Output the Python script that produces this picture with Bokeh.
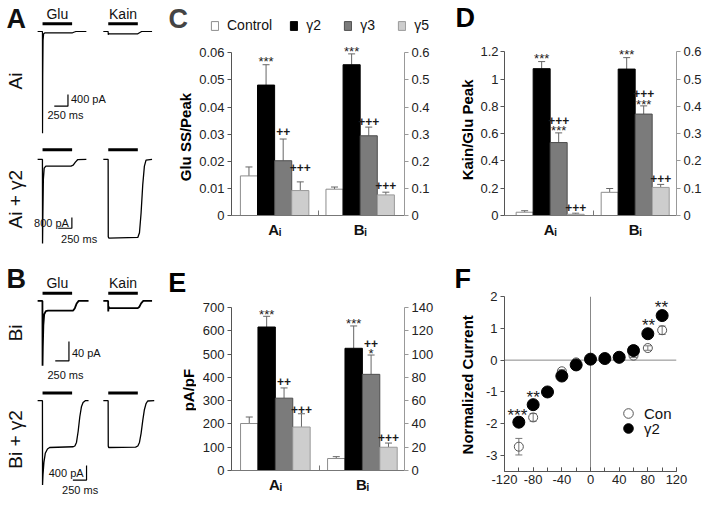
import math
from bokeh.plotting import figure
from bokeh.layouts import row, column
from bokeh.models import (Range1d, LinearAxis, FixedTicker, Label, Legend, LegendItem,
                          Whisker, TeeHead, ColumnDataSource, Span,
                          CustomJSTickFormatter, SingleIntervalTicker)
from bokeh.core.properties import value
from bokeh.embed import file_html
from bokeh.resources import INLINE

FONT = "Liberation Sans"

# ------------------------------------------------------------------ data
CONDITIONS = ["Control", "γ2", "γ3", "γ5"]
GROUP_TICKS = [2.5, 7.5]
GROUP_LABELS = ["Aᵢ", "Bᵢ"]

# C: Glu SS/Peak  (Ai -> left axis, Bi -> right axis)
C_AI = [0.0146, 0.0481, 0.0202, 0.0092]
C_AI_ERR = [0.0033, 0.0075, 0.0080, 0.0032]
C_BI = [0.097, 0.556, 0.294, 0.076]
C_BI_ERR = [0.008, 0.040, 0.032, 0.010]
C_LTICKS = [0, 0.01, 0.02, 0.03, 0.04, 0.05, 0.06]
C_RTICKS = [0, 0.1, 0.2, 0.3, 0.4, 0.5, 0.6]
C_SIG_AI = [(1, "***", 0.0580), (2, "++", 0.0308), (3, "+++", 0.0177)]
C_SIG_BI = [(1, "***", 0.615), (2, "+++", 0.348), (3, "+++", 0.112)]

# D: Kain/Glu Peak
D_AI = [0.024, 1.077, 0.535, 0.009]
D_AI_ERR = [0.011, 0.052, 0.071, 0.008]
D_BI = [0.085, 0.537, 0.372, 0.103]
D_BI_ERR = [0.014, 0.042, 0.030, 0.011]
D_LTICKS = [0, 0.2, 0.4, 0.6, 0.8, 1, 1.2]
D_RTICKS = [0, 0.1, 0.2, 0.3, 0.4, 0.5, 0.6]
D_SIG_AI = [(1, "***", 1.172), (2, "+++", 0.698), (2, "***", 0.644), (3, "+++", 0.059)]
D_SIG_BI = [(1, "***", 0.600), (2, "+++", 0.446), (2, "***", 0.417), (3, "+++", 0.135)]

# E: pA/pF
E_AI = [202, 617, 311, 187]
E_AI_ERR = [28, 46, 44, 57]
E_BI = [10.3, 105.1, 82.7, 20.0]
E_BI_ERR = [1.6, 19.2, 16.6, 3.6]
E_LTICKS = [0, 100, 200, 300, 400, 500, 600, 700]
E_RTICKS = [0, 20, 40, 60, 80, 100, 120, 140]
E_SIG_AI = [(1, "***", 682), (2, "++", 381), (3, "+++", 261)]
E_SIG_BI = [(1, "***", 129), (2, "++", 109), (2, "*", 103), (3, "+++", 28.3)]

# F: normalized I-V
F_V = [-100, -80, -60, -40, -20, 0, 20, 40, 60, 80, 100]
F_CON = [-2.72, -1.80, -1.00, -0.35, -0.07, 0.04, 0.05, 0.05, 0.14, 0.38, 0.94]
F_CON_ERR = [0.26, 0.12, 0.05, 0.05, 0.04, 0.12, 0.03, 0.04, 0.06, 0.07, 0.13]
F_G2 = [-1.95, -1.40, -1.00, -0.50, -0.15, 0.03, 0.05, 0.09, 0.30, 0.83, 1.40]
F_G2_ERR = [0.05, 0.05, 0.05, 0.04, 0.03, 0.03, 0.02, 0.03, 0.04, 0.05, 0.10]
F_YTICKS = [-3, -2, -1, 0, 1, 2]
F_SIG = [(-102, "***", -1.60), (-80, "**", -1.06), (81, "**", 1.20), (99, "**", 1.79)]

# Example traces (time in ms, current in pA)
AI_GLU_T = [-90, -2, 0, 4, 10, 20, 40, 540, 570, 610, 800]
AI_GLU_I = [0, 0, -3500, -1500, -300, -80, -50, -50, -25, 0, 0]
AI_KAIN_T = [-90, -2, 0, 8, 20, 540, 570, 610, 800]
AI_KAIN_I = [0, 0, -110, -70, -80, -80, -40, 0, 0]

AIG2_GLU_T = [-90, -2, 0, 5, 15, 30, 60, 520, 560, 600, 640, 800]
AIG2_GLU_I = [0, 0, -6300, -4500, -1500, -650, -500, -500, -430, -200, -20, 0]
AIG2_KAIN_T = [-90, -2, 0, 10, 540, 570, 600, 630, 660, 690, 800]
AIG2_KAIN_I = [0, 0, -5800, -5900, -5850, -5500, -4000, -1900, -500, -50, 0]

BI_GLU_T = [-90, -2, 0, 5, 15, 30, 60, 100, 560, 590, 620, 660, 840]
BI_GLU_I = [0, 0, -134, -95, -50, -28, -21, -20, -20, -15, -6, 0, 0]
BI_KAIN_T = [-90, -2, 0, 6, 20, 540, 570, 600, 640, 800]
BI_KAIN_I = [0, 0, -22, -12, -15, -15, -12, -5, 0, 0]

BIG2_GLU_T = [-90, -2, 0, 8, 25, 50, 90, 130, 560, 590, 620, 650, 680, 710, 740, 780, 840]
BIG2_GLU_I = [0, 0, -2320, -2050, -1700, -1450, -1330, -1290, -1270, -1250, -1150,
              -850, -450, -170, -50, 0, 0]
BIG2_KAIN_T = [-90, -2, 0, 8, 500, 540, 570, 600, 630, 660, 690, 720, 840]
BIG2_KAIN_I = [0, 0, -1250, -1290, -1280, -1250, -1150, -900, -550, -250, -80, -10, 0]

APP_DUR = 540          # ms, application bar length
KAIN_OFFSET = 1200     # ms, Kain sweep drawn to the right of the Glu sweep
SB_MS = 250            # time scale bar

# ------------------------------------------------------------------ styles
FILL = ["#ffffff", "#000000", "#7b7b7b", "#cdcdcd"]
EDGE = ["#8c8c8c", "#000000", "#4d4d4d", "#9a9a9a"]
ERR = "#666666"
AI_X = [1, 2, 3, 4]
BI_X = [6, 7, 8, 9]
GAP_X = 5.05
FMT = "return String(Math.round(tick*1000)/1000)"


def style_axis(ax, color, tick_in=0, tick_out=4, standoff=3):
    ax.axis_line_color = color
    ax.major_tick_line_color = color
    ax.minor_tick_line_color = None
    ax.major_tick_in = tick_in
    ax.major_tick_out = tick_out
    ax.major_label_text_font = FONT
    ax.major_label_text_font_size = "13px"
    ax.major_label_text_color = "#222222"
    ax.major_label_standoff = standoff


def add_text(p, xs, ys, texts, size, rn="default", yoff=0, bold=False):
    p.text(x=xs, y=ys, text=texts, y_range_name=rn, text_align="center",
           text_baseline="middle", text_font=value(FONT), text_font_size=size,
           text_color="#1a1a1a", y_offset=yoff, text_font_style="bold" if bold else "normal")


def sig_marks(p, xs, sig, rn):
    st = [s for s in sig if "*" in s[1]]
    pl = [s for s in sig if "*" not in s[1]]
    if st:
        add_text(p, [xs[c] for c, _, _ in st], [y for _, _, y in st], [t for _, t, _ in st],
                 "13px", rn, yoff=3)
    if pl:
        add_text(p, [xs[c] for c, _, _ in pl], [y for _, _, y in pl], [t for _, t, _ in pl],
                 "12px", rn, yoff=0, bold=True)


def blank(w, h):
    p = figure(width=w, height=h, x_range=Range1d(0, w), y_range=Range1d(0, h),
               x_axis_type=None, y_axis_type=None, output_backend="svg",
               toolbar_location=None, min_border=0)
    p.outline_line_color = None
    return p


def strip(w, h, items):
    """tall narrow figure that carries panel letters and y-axis titles"""
    p = blank(w, h)
    for x, y, text, size, rot in items:
        p.add_layout(Label(x=x, y=h - y, text=text, text_align="center",
                           text_baseline="middle", angle=math.pi / 2 if rot else 0,
                           text_font=FONT, text_font_size=size, text_font_style="bold",
                           text_color="#000000"))
    return p


def bar_panel(w, h, borders, axis_px, xr, lticks, rticks, ai, ai_err, bi, bi_err,
              sig_ai, sig_bi, lstand=3):
    lb, rb, tb, bb = borders
    fac = (h - tb - bb) / axis_px
    lmax, rmax = lticks[-1], rticks[-1]
    p = figure(width=w, height=h, x_range=Range1d(*xr), y_range=Range1d(0, lmax * fac),
               output_backend="svg", toolbar_location=None,
               min_border_left=lb, min_border_right=rb, min_border_top=tb, min_border_bottom=bb)
    p.extra_y_ranges = {"r": Range1d(0, rmax * fac)}
    p.grid.visible = False
    p.outline_line_color = None

    yl = p.yaxis[0]
    yl.ticker = FixedTicker(ticks=lticks)
    yl.bounds = (0, lmax)
    yl.formatter = CustomJSTickFormatter(code=FMT)
    style_axis(yl, "#555555", standoff=lstand)
    yr = LinearAxis(y_range_name="r", ticker=FixedTicker(ticks=rticks), bounds=(0, rmax),
                    formatter=CustomJSTickFormatter(code=FMT))
    style_axis(yr, "#999999")
    p.add_layout(yr, "right")
    xa = p.xaxis[0]
    xa.ticker = FixedTicker(ticks=GROUP_TICKS, minor_ticks=[GAP_X])
    xa.formatter = CustomJSTickFormatter(
        args=dict(gpos=GROUP_TICKS, glab=GROUP_LABELS),
        code="const k = gpos.indexOf(tick); return k >= 0 ? glab[k] : ''")
    style_axis(xa, "#777777", tick_in=0, tick_out=0)
    xa.minor_tick_line_color = "#777777"
    xa.minor_tick_in = 5
    xa.minor_tick_out = 0
    xa.major_label_text_font_size = "15px"
    xa.major_label_text_font_style = "bold"
    xa.major_label_text_color = "#111111"
    xa.major_label_standoff = 5

    for k in range(4):
        p.vbar(x=[AI_X[k]], top=[ai[k]], width=1, fill_color=FILL[k], line_color=EDGE[k])
        p.vbar(x=[BI_X[k]], top=[bi[k]], width=1, fill_color=FILL[k], line_color=EDGE[k],
               y_range_name="r")
    for xs, v, e, rn in ((AI_X, ai, ai_err, "default"), (BI_X, bi, bi_err, "r")):
        src = ColumnDataSource(dict(x=xs, lo=v, hi=[a + b for a, b in zip(v, e)]))
        p.add_layout(Whisker(source=src, base="x", lower="lo", upper="hi", y_range_name=rn,
                             line_color=ERR, line_width=1, lower_head=None,
                             upper_head=TeeHead(size=7, line_color=ERR, line_width=1)))
    sig_marks(p, AI_X, sig_ai, "default")
    sig_marks(p, BI_X, sig_bi, "r")
    return p


# ------------------------------------------------------------------ trace column
SX = 704 / 720
W1 = 166
XG = 43 * SX
MSPX = 250 / (14 * SX)


def trace_fig(h, top_ref, sy, base_ref, pa_per_refpx):
    pa_px = pa_per_refpx / sy
    y0 = (base_ref - top_ref) * sy
    p = figure(width=W1, height=h, x_range=Range1d(-XG * MSPX, (W1 - XG) * MSPX),
               y_range=Range1d(-(h - y0) * pa_px, y0 * pa_px), x_axis_type=None,
               y_axis_type=None, output_backend="svg", toolbar_location=None, min_border=0)
    p.outline_line_color = None

    def X(xr):
        return (xr * SX - XG) * MSPX

    def Y(yr):
        return (y0 - (yr - top_ref) * sy) * pa_px
    return p, X, Y


def lab(p, x, y, text, size, align="left", angle=0.0, bold=False):
    p.add_layout(Label(x=x, y=y, text=text, text_align=align, text_baseline="middle",
                       angle=angle, text_font=FONT, text_font_size=size,
                       text_font_style="bold" if bold else "normal", text_color="#111111"))


def draw_row(p, X, Y, gt, gi, kt, ki, lw, app_ref, sb_pa, sb_x_ref, sb_top_ref,
             pa_text, pa_pos, pa_align, ms_pos, row_text, row_y_ref):
    p.line(gt, gi, line_color="black", line_width=lw)
    p.line([t + KAIN_OFFSET for t in kt], ki, line_color="black", line_width=lw)
    ya = Y(app_ref)
    p.segment(x0=[0, KAIN_OFFSET], x1=[APP_DUR, KAIN_OFFSET + APP_DUR], y0=[ya, ya],
              y1=[ya, ya], line_color="black", line_width=3)
    sx, st = X(sb_x_ref), Y(sb_top_ref)
    p.line([sx - SB_MS, sx, sx], [st - sb_pa, st - sb_pa, st], line_color="black",
           line_width=1.2)
    lab(p, X(pa_pos[0]), Y(pa_pos[1]), pa_text, "11px", pa_align)
    lab(p, X(ms_pos[0]), Y(ms_pos[1]), "250 ms", "11px", "left")
    lab(p, X(15), Y(row_y_ref), row_text, "19px", "center", angle=math.pi / 2)


SY_T = 252 / 260
SY_B = 244 / 252

a1, X, Y = trace_fig(140, 0, SY_T, 32, 400 / 12)
draw_row(a1, X, Y, AI_GLU_T, AI_GLU_I, AI_KAIN_T, AI_KAIN_I, 1.2, 24, 400, 69, 97,
         "400 pA", (72, 102), "left", (48, 118), "Ai", 83)
lab(a1, X(16), Y(19), "A", "27px", "center", bold=True)
lab(a1, APP_DUR / 2, Y(14), "Glu", "14px", "center")
lab(a1, KAIN_OFFSET + APP_DUR / 2, Y(14), "Kain", "14px", "center")

a2, X, Y = trace_fig(112, 140 / SY_T, SY_T, 164, 800 / 11)
draw_row(a2, X, Y, AIG2_GLU_T, AIG2_GLU_I, AIG2_KAIN_T, AIG2_KAIN_I, 1.3, 154, 800, 73, 224,
         "800 pA", (70, 230), "right", (62, 246), "Ai + γ2", 205)

b1, X, Y = trace_fig(132, 260, SY_B, 310, 40 / 20)
draw_row(b1, X, Y, BI_GLU_T, BI_GLU_I, BI_KAIN_T, BI_KAIN_I, 1.8, 302, 40, 70, 352,
         "40 pA", (73, 364), "left", (48, 386), "Bi", 343)
lab(b1, X(16), Y(287), "B", "27px", "center", bold=True)
lab(b1, APP_DUR / 2, Y(292), "Glu", "14px", "center")
lab(b1, KAIN_OFFSET + APP_DUR / 2, Y(292), "Kain", "14px", "center")

b2, X, Y = trace_fig(112, 260 + 132 / SY_B, SY_B, 413, 400 / 15)
draw_row(b2, X, Y, BIG2_GLU_T, BIG2_GLU_I, BIG2_KAIN_T, BIG2_KAIN_I, 1.3, 405, 400, 88, 480,
         "400 pA", (85, 488), "right", (63, 505), "Bi + γ2", 453)

# ------------------------------------------------------------------ column 2: C and E
LEG_H = 33
lc = blank(284, LEG_H)
proxies = [lc.vbar(x=[-100], top=[0], width=1, fill_color=FILL[k], line_color=EDGE[k])
           for k in range(4)]          # legend swatches only (outside the visible range)
lc.add_layout(Legend(items=[LegendItem(label=c, renderers=[r])
                            for c, r in zip(CONDITIONS, proxies)],
                     orientation="horizontal", location=(44, 0),
                     glyph_width=9, glyph_height=11, label_standoff=8, spacing=17,
                     padding=0, margin=0, border_line_color=None, background_fill_alpha=0,
                     label_text_font=FONT, label_text_font_size="14px", label_height=12,
                     label_text_color="#111111"))
lc.add_layout(Label(x=11.7, y=LEG_H - 18.4, text="C", text_align="center",
                    text_baseline="middle", text_font=FONT, text_font_size="27px",
                    text_font_style="bold"))
s2 = strip(30, 496 - LEG_H, [(18.6, 136.6 - LEG_H, "Glu SS/Peak", "15px", True),
                             (10.8, 252 + 30.0 - LEG_H, "E", "27px", False),
                             (21.5, 252 + 137.6 - LEG_H, "pA/pF", "15px", True)])
pc = bar_panel(254, 252 - LEG_H, (34, 42, 2, 37), 162.7, (-0.02, 10.09), C_LTICKS, C_RTICKS,
               C_AI, C_AI_ERR, C_BI, C_BI_ERR, C_SIG_AI, C_SIG_BI)
pe = bar_panel(254, 244, (33, 46, 8, 26), 162.8, (-0.02, 9.92), E_LTICKS, E_RTICKS,
               E_AI, E_AI_ERR, E_BI, E_BI_ERR, E_SIG_AI, E_SIG_BI)

# ------------------------------------------------------------------ column 3: D and F
s3 = strip(25, 496, [(14.7, 17.0, "D", "27px", False),
                     (17.4, 129.4, "Kain/Glu Peak", "15px", True),
                     (12.2, 252 + 26.2, "F", "27px", False),
                     (17.1, 252 + 132.3, "Normalized Current", "15px", True)])
pd = bar_panel(229, 252, (24, 27, 8, 37), 163.6, (-0.185, 9.93), D_LTICKS, D_RTICKS,
               D_AI, D_AI_ERR, D_BI, D_BI_ERR, D_SIG_AI, D_SIG_BI, lstand=2)

pf = figure(width=229, height=244, x_range=Range1d(-120, 120), y_range=Range1d(-3.5, 2),
            output_backend="svg", toolbar_location=None, min_border_left=29,
            min_border_right=25, min_border_top=44, min_border_bottom=25)
pf.grid.visible = False
pf.outline_line_color = None
style_axis(pf.yaxis[0], "#555555")
pf.yaxis[0].ticker = FixedTicker(ticks=F_YTICKS)
pf.yaxis[0].formatter = CustomJSTickFormatter(code=FMT)
xa = pf.xaxis[0]
xa.ticker = SingleIntervalTicker(interval=40, num_minor_ticks=2)
xa.formatter = CustomJSTickFormatter(code=FMT)
style_axis(xa, "#555555", tick_in=4, tick_out=0)
xa.minor_tick_line_color = "#555555"
xa.minor_tick_in = 4
xa.minor_tick_out = 0
pf.add_layout(Span(location=0, dimension="height", line_color="#888888", line_width=1,
                   level="underlay"))
pf.add_layout(Span(location=0, dimension="width", line_color="#888888", line_width=1,
                   level="underlay"))
for ys, es in ((F_CON, F_CON_ERR), (F_G2, F_G2_ERR)):
    src = ColumnDataSource(dict(x=F_V, lo=[a - b for a, b in zip(ys, es)],
                                hi=[a + b for a, b in zip(ys, es)]))
    pf.add_layout(Whisker(source=src, base="x", lower="lo", upper="hi", line_color="#777777",
                          line_width=1,
                          upper_head=TeeHead(size=7, line_color="#777777", line_width=1),
                          lower_head=TeeHead(size=7, line_color="#777777", line_width=1)))
r_con = pf.scatter(F_V, F_CON, marker="circle", size=9, fill_color=None, line_color="#555555",
                   line_width=1)
r_g2 = pf.scatter(F_V, F_G2, marker="circle", size=12, fill_color="black", line_color="black")
add_text(pf, [s[0] for s in F_SIG], [s[2] for s in F_SIG], [s[1] for s in F_SIG], "17px",
         yoff=4)
for name, rend, loc in (("Con", r_con, (112, 46)), ("γ2", r_g2, (112, 30.6))):
    pf.add_layout(Legend(items=[LegendItem(label=name, renderers=[rend])], location=loc,
                         glyph_width=24, glyph_height=24, label_standoff=4, padding=0,
                         margin=0, border_line_color=None, background_fill_alpha=0,
                         label_text_font=FONT, label_text_font_size="15px",
                         label_text_color="#111111"))

layout = row(column(a1, a2, b1, b2),
             column(lc, row(s2, column(pc, pe))),
             row(s3, column(pd, pf)))
open("out.html", "w").write(file_html(layout, INLINE))
